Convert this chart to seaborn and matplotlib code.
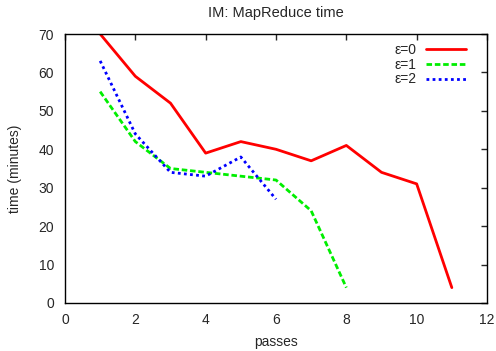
#recreate the IM MapReduce time line chart
import pandas as pd
from matplotlib import pyplot as plt
import seaborn as sns

#values
passes_e0 = [1, 2, 3, 4, 5, 6, 7, 8, 9, 10, 11]
time_e0 = [70, 59, 52, 39, 42, 40, 37, 41, 34, 31, 4]
passes_e1 = [1, 2, 3, 4, 5, 6, 7, 8]
time_e1 = [55, 42, 35, 34, 33, 32, 24, 4]
passes_e2 = [1, 2, 3, 4, 5, 6]
time_e2 = [63, 44, 34, 33, 38, 27]
series = ['ε=0', 'ε=1', 'ε=2']

df = pd.concat([
    pd.DataFrame({'passes': passes_e0, 'time': time_e0, 'eps': series[0]}),
    pd.DataFrame({'passes': passes_e1, 'time': time_e1, 'eps': series[1]}),
    pd.DataFrame({'passes': passes_e2, 'time': time_e2, 'eps': series[2]}),
])

sns.set_style('white')
plt.rcParams['font.family'] = ['Liberation Sans', 'DejaVu Sans']

fig = plt.figure(figsize=(4.96, 3.51), dpi=100)
ax = fig.add_axes([65/496, 1 - 303/351, (487-65)/496, (303-34)/351])

palette = {'ε=0': '#ff0000', 'ε=1': '#00ee00', 'ε=2': '#0000ff'}
dashes = {'ε=0': '', 'ε=1': (2, 1), 'ε=2': (1, 1.2)}
sns.lineplot(data=df, x='passes', y='time', hue='eps', style='eps',
             palette=palette, dashes=dashes, linewidth=2, ax=ax)

ax.set_xlim(0, 12)
ax.set_ylim(0, 70)
ax.set_xticks(range(0, 13, 2))
ax.set_yticks(range(0, 71, 10))
ax.tick_params(direction='in', length=4.5, top=True, right=True, width=1,
               labelsize=10, pad=7)
ax.tick_params(axis='y', pad=8)
for s in ax.spines.values():
    s.set_linewidth(1)
    s.set_color('black')
ax.set_xlabel('passes', fontsize=10, labelpad=6)
ax.set_ylabel('time (minutes)', fontsize=10, labelpad=12)
ax.set_title('IM: MapReduce time', fontsize=10.5, pad=12)

leg = ax.legend(loc='upper right', frameon=False, markerfirst=False,
                handlelength=2.9, labelspacing=0.05, fontsize=10,
                bbox_to_anchor=(0.972, 1.0), borderaxespad=0.25, handletextpad=0.7)
for t in leg.get_texts():
    t.set_ha('right')

fig.savefig('out.png', dpi=100)
